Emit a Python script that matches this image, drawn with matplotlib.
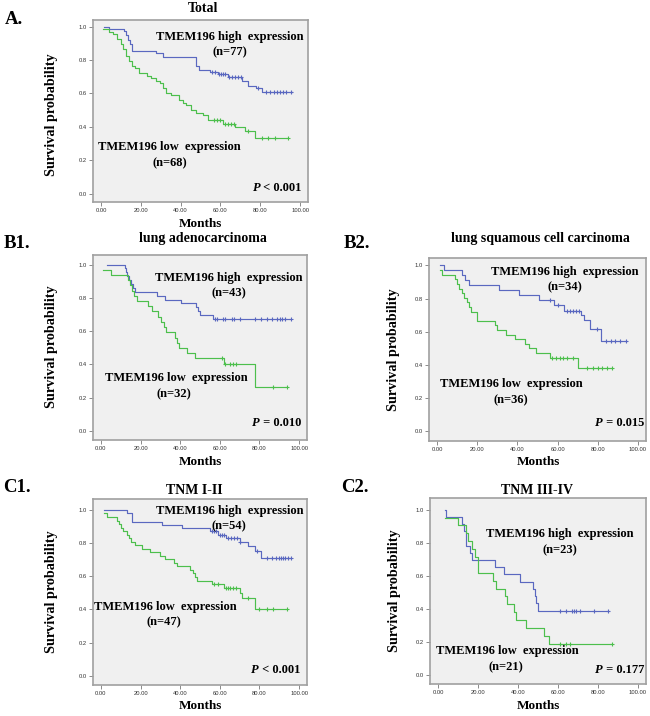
import numpy as np
import matplotlib
matplotlib.use('Agg')
import matplotlib.pyplot as plt

# Kaplan-Meier curves (time in months, survival after each step)
# A. Total
a_hi_t = [1.5, 4, 11.5, 12.5, 13.5, 14.5, 15.5, 27.5, 31, 47.5, 49, 55, 59, 64, 71, 74, 78, 81, 96]
a_hi_s = [1.0, 0.987, 0.974, 0.948, 0.922, 0.896, 0.857, 0.844, 0.818, 0.766, 0.74, 0.727, 0.714,
          0.698, 0.672, 0.645, 0.632, 0.607, 0.607]
a_hi_c = [56, 57.5, 59.5, 60.5, 61.5, 62.5, 64.5, 66, 67.5, 69, 70.5, 79, 83, 85, 87, 88.5, 90, 91.5, 93, 95.5]
a_lo_t = [1, 4, 6, 8, 10, 11, 12.5, 14, 15.5, 17, 19, 23, 25, 27.5, 29.5, 31, 32.5, 35, 39, 41, 42.5,
          45, 47.5, 51.5, 54, 61.5, 67.5, 72.5, 77.5, 94]
a_lo_s = [0.985, 0.97, 0.955, 0.926, 0.897, 0.868, 0.824, 0.794, 0.765, 0.75, 0.721, 0.706, 0.691,
          0.676, 0.662, 0.632, 0.603, 0.588, 0.559, 0.544, 0.529, 0.5, 0.485, 0.471, 0.441, 0.42,
          0.40, 0.375, 0.334, 0.334]
a_lo_c = [57, 58.5, 60, 62.5, 64, 65.5, 67, 74, 81, 84, 87.5, 94]

# B1. lung adenocarcinoma
b1_hi_t = [3, 12, 12.5, 13, 14, 15, 16, 17, 28.5, 32.5, 40.5, 48, 49, 50, 56.5, 96]
b1_hi_s = [1.0, 0.977, 0.953, 0.93, 0.907, 0.884, 0.86, 0.837, 0.814, 0.79, 0.767, 0.744, 0.72,
           0.698, 0.674, 0.674]
b1_hi_c = [57.5, 58.5, 61.5, 62.5, 66, 67, 70, 78, 81, 84, 86.5, 89, 90.5, 91.5, 93, 96]
b1_lo_t = [1, 5, 13.5, 14.5, 15.5, 16.5, 18, 24, 26, 29, 30.5, 32, 33, 37.5, 38.5, 39.5, 43.5, 47.5,
           50, 62, 78, 94]
b1_lo_s = [0.969, 0.938, 0.906, 0.875, 0.844, 0.812, 0.781, 0.75, 0.719, 0.688, 0.656, 0.625, 0.594,
           0.562, 0.531, 0.5, 0.469, 0.438, 0.438, 0.40, 0.267, 0.267]
b1_lo_c = [61, 62.5, 65, 66.5, 68, 87, 94]

# B2. lung squamous cell carcinoma
b2_hi_t = [1.5, 3.5, 12.5, 14, 16, 31, 41, 50.5, 58, 63, 71.5, 73, 76, 81.5, 94]
b2_hi_s = [1.0, 0.971, 0.941, 0.912, 0.882, 0.853, 0.824, 0.794, 0.762, 0.728, 0.70, 0.67, 0.615,
           0.546, 0.546]
b2_hi_c = [56, 60, 64.5, 66, 67.5, 69, 70.5, 79.5, 84, 86.5, 88.5, 91, 94]
b2_lo_t = [1.5, 2.5, 9, 10, 11, 12.5, 13.5, 15, 16, 17, 20, 29, 30, 34.5, 39, 44, 46, 49.5, 56, 70, 87]
b2_lo_s = [0.972, 0.944, 0.917, 0.889, 0.861, 0.833, 0.806, 0.778, 0.75, 0.722, 0.667, 0.639, 0.611,
           0.583, 0.556, 0.528, 0.50, 0.472, 0.444, 0.381, 0.381]
b2_lo_c = [57, 59, 61, 62.5, 64.5, 67.5, 74.5, 77.5, 80, 82, 84.5, 87]

# C1. TNM I-II
c1_hi_t = [1.5, 13, 15.5, 31, 41, 55, 59, 63, 70, 74, 78, 81, 96]
c1_hi_s = [1.0, 0.981, 0.926, 0.907, 0.889, 0.87, 0.85, 0.828, 0.805, 0.78, 0.755, 0.712, 0.712]
c1_hi_c = [56, 57, 58, 60, 61, 62, 64, 65.5, 67, 68.5, 70, 79, 84, 86.5, 88.5, 90, 91, 92, 93, 94.5, 96]
c1_lo_t = [1.5, 3, 8, 9, 10, 11, 13, 14, 15, 17, 20.5, 25, 30, 32.5, 37, 38.5, 45, 46.5, 47.5, 48.5,
           56, 62, 70, 71, 78, 94]
c1_lo_s = [0.979, 0.957, 0.936, 0.915, 0.894, 0.872, 0.851, 0.83, 0.809, 0.787, 0.766, 0.745, 0.723,
           0.702, 0.681, 0.66, 0.638, 0.617, 0.596, 0.574, 0.553, 0.527, 0.50, 0.469, 0.40, 0.40]
c1_lo_c = [57, 59, 63, 64, 65, 66.5, 68, 74, 80, 84, 87, 94]

# C2. TNM III-IV
c2_hi_t = [3.5, 4, 12, 13, 14, 16, 17, 28.5, 33, 41, 47.5, 48.5, 49, 50, 85]
c2_hi_s = [1.0, 0.957, 0.913, 0.87, 0.783, 0.739, 0.696, 0.652, 0.609, 0.565, 0.522, 0.478, 0.435,
           0.391, 0.391]
c2_hi_c = [61, 64, 67, 68, 69, 71, 78, 85]
c2_lo_t = [3.5, 10, 14, 15, 17, 18.5, 20, 27.5, 29, 33.5, 34.5, 38, 39, 44, 53, 55.5, 87]
c2_lo_s = [0.952, 0.905, 0.857, 0.81, 0.762, 0.714, 0.619, 0.571, 0.524, 0.476, 0.429, 0.381, 0.333,
           0.286, 0.238, 0.19, 0.19]
c2_lo_c = [61, 64, 66, 87]

xticks = [0, 20, 40, 60, 80, 100]
yticks = [0.0, 0.2, 0.4, 0.6, 0.8, 1.0]

BLUE = '#5a68c0'
GREEN = '#4cbf4c'
SERIF = 'Liberation Serif'

W, H = 650, 716
fig = plt.figure(figsize=(W / 100, H / 100), dpi=100)
fig.patch.set_facecolor('white')


def box(l, t, r, b):
    return [l / W, 1 - b / H, (r - l) / W, (b - t) / H]


def ftext(x, y, s, **kw):
    fig.text(x / W, 1 - y / H, s, family=SERIF, weight='bold', ha='center', va='center', **kw)


def km(ax, t, s, c, color):
    ax.step(t, s, where='post', color=color, lw=0.85)
    idx = np.searchsorted(t, c, side='right') - 1
    ax.plot(c, np.array(s)[idx], '+', color=color, ms=3.2, mew=0.8, ls='none')


def panel(rect, ylim, hi, lo, hi_lab, lo_lab, pval):
    ax = fig.add_axes(box(*rect))
    ax.set_facecolor('#f0f0f0')
    km(ax, *hi, BLUE)
    km(ax, *lo, GREEN)
    ax.set_xlim(-4, 104)
    ax.set_ylim(*ylim)
    ax.set_xticks(xticks)
    ax.set_xticklabels(['%.2f' % v for v in xticks])
    ax.set_yticks(yticks)
    ax.set_yticklabels(['%.1f' % v for v in yticks])
    ax.tick_params(length=3, width=0.6, color='#777777', labelsize=4.2, labelcolor='#333333', pad=1.5)
    for lab in ax.get_xticklabels() + ax.get_yticklabels():
        lab.set_family('Liberation Sans')
    for sp in ax.spines.values():
        sp.set_color('#a0a0a0')
        sp.set_linewidth(1.2)
    tk = dict(family=SERIF, weight='bold', fontsize=9, ha='center', va='center')
    ax.text(hi_lab[0], hi_lab[1], 'TMEM196 high  expression', **tk)
    ax.text(hi_lab[0], hi_lab[2], hi_lab[3], **tk)
    ax.text(lo_lab[0], lo_lab[1], 'TMEM196 low  expression', **tk)
    ax.text(lo_lab[4], lo_lab[2], lo_lab[3], **tk)
    val = ax.text(pval[0], pval[1], pval[2], family=SERIF, weight='bold', fontsize=9,
                  ha='right', va='bottom')
    ax.annotate('P', xy=(0, 0), xycoords=val, family=SERIF, weight='bold', style='italic',
                fontsize=9, ha='right', va='bottom')
    return ax


# A
panel((93, 20, 308, 202), (-0.05, 1.04), (a_hi_t, a_hi_s, a_hi_c), (a_lo_t, a_lo_s, a_lo_c),
      (64.6, 0.94, 0.848, '(n=77)'), (34.5, 0.279, 0.18, '(n=68)', 34.5), (100.8, 0.0, ' < 0.001'))
# B1
panel((93, 255, 307, 440), (-0.054, 1.058), (b1_hi_t, b1_hi_s, b1_hi_c), (b1_lo_t, b1_lo_s, b1_lo_c),
      (64.6, 0.92, 0.83, '(n=43)'), (38, 0.32, 0.223, '(n=32)', 37), (101, 0.015, ' = 0.010'))
# B2
panel((429, 258, 646, 441), (-0.058, 1.045), (b2_hi_t, b2_hi_s, b2_hi_c), (b2_lo_t, b2_lo_s, b2_lo_c),
      (63.8, 0.96, 0.867, '(n=34)'), (37, 0.285, 0.19, '(n=36)', 36.6), (103, 0.017, ' = 0.015'))
# C1
panel((93, 499, 307, 685), (-0.056, 1.066), (c1_hi_t, c1_hi_s, c1_hi_c), (c1_lo_t, c1_lo_s, c1_lo_c),
      (64.8, 0.996, 0.9, '(n=54)'), (32.3, 0.416, 0.32, '(n=47)', 32), (100.5, 0.0, ' < 0.001'))
# C2
panel((430, 498, 646, 684), (-0.052, 1.07), (c2_hi_t, c2_hi_s, c2_hi_c), (c2_lo_t, c2_lo_s, c2_lo_c),
      (60.7, 0.85, 0.755, '(n=23)'), (34.5, 0.146, 0.046, '(n=21)', 34), (103, -0.002, ' = 0.177'))

# panel letters
ftext(14, 19, 'A.', fontsize=13.5)
ftext(17, 243, 'B1.', fontsize=13.5)
ftext(357, 243, 'B2.', fontsize=13.5)
ftext(17, 488, 'C1.', fontsize=13.5)
ftext(355, 488, 'C2.', fontsize=13.5)

# titles
ftext(203, 8, 'Total', fontsize=10)
ftext(203, 238, 'lung adenocarcinoma', fontsize=10)
ftext(540, 238, 'lung squamous cell carcinoma', fontsize=10)
ftext(194, 491, 'TNM I-II', fontsize=10)
ftext(537, 491, 'TNM III-IV', fontsize=10)

# axis labels
for x, y in [(52, 115), (52, 347), (393, 350), (52, 592), (395, 591)]:
    ftext(x, y, 'Survival probability', fontsize=10.2, rotation=90)
for x, y in [(200, 224), (200, 462), (538, 462), (200, 706), (538, 706)]:
    ftext(x, y, 'Months', fontsize=9.5)

plt.savefig('out.png', dpi=100)
